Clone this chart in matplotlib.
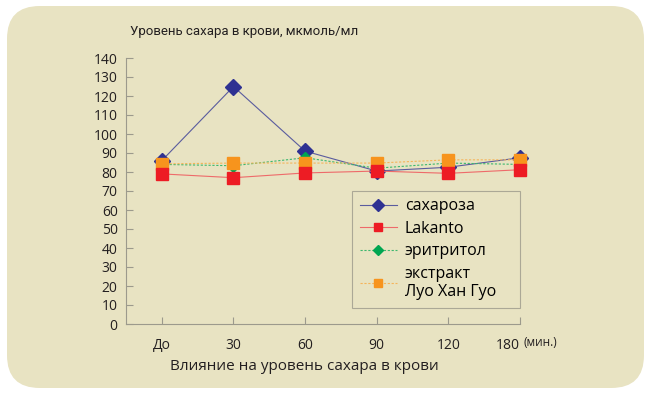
import matplotlib.pyplot as plt
from matplotlib.patches import FancyBboxPatch

plt.rcParams['font.family'] = ['Open Sans', 'DejaVu Sans']

# data
categories = ['До', '30', '60', '90', '120', '180']
sucrose = [86, 125, 91, 80.5, 82.5, 87.5]
lakanto = [79, 77, 79.5, 80.5, 79.3, 81.2]
erythritol = [84, 83.3, 87.5, 82, 84.7, 84]
luohanguo = [84.3, 84.7, 84.7, 84.7, 86.4, 86.4]

labels = ['сахароза', 'Lakanto', 'эритритол', 'экстракт\nЛуо Хан Гуо']

bg = '#E8E3C2'
axis_col = '#9C9A8C'

fig = plt.figure(figsize=(6.55, 3.96), dpi=100)
fig.patch.set_facecolor('white')

# rounded panel behind the chart
panel = FancyBboxPatch((7 / 655, 1 - 388 / 396), 637 / 655, 382 / 396,
                       boxstyle='round,pad=0,rounding_size=0.05',
                       transform=fig.transFigure, facecolor=bg,
                       edgecolor='none', mutation_aspect=655 / 396, zorder=-5)
fig.patches.append(panel)

ax = fig.add_axes([126 / 655, 1 - 324 / 396, 394 / 655, 266 / 396])
ax.set_facecolor('none')
ax.set_zorder(2)

x = list(range(len(categories)))
ax.plot(x, sucrose, color='#5A5C9E', lw=0.8, marker='D', ms=8,
        mfc='#2E3192', mec='#2E3192', label=labels[0], zorder=3, clip_on=False)
ax.plot(x, erythritol, color='#3DB86E', lw=0.8, ls=(0, (2, 1.5)), marker='D', ms=6.5,
        mfc='#00A651', mec='#00A651', label=labels[2], zorder=4, clip_on=False)
ax.plot(x, luohanguo, color='#F5B45A', lw=0.8, ls=(0, (2, 1.5)), marker='s', ms=8,
        mfc='#F7941D', mec='#F7941D', label=labels[3], zorder=5, clip_on=False)
ax.plot(x, lakanto, color='#EE6A6A', lw=0.8, marker='s', ms=8,
        mfc='#ED1C24', mec='#ED1C24', label=labels[1], zorder=6, clip_on=False)

ax.set_xlim(-0.5, 5)
ax.set_ylim(0, 140)
ax.set_yticks(range(0, 141, 10))
ax.set_xticks(x)
ax.set_xticklabels(categories)
ax.get_xticklabels()[-1].set_ha('right')

for s in ['top', 'right']:
    ax.spines[s].set_visible(False)
for s in ['left', 'bottom']:
    ax.spines[s].set_color(axis_col)
    ax.spines[s].set_linewidth(0.8)
ax.tick_params(direction='in', length=5, color=axis_col, labelsize=10,
               labelcolor='#231F20', pad=6)
ax.tick_params(axis='x', pad=10)

handles, lbls = ax.get_legend_handles_labels()
order = [lbls.index(l) for l in labels]
leg = ax.legend([handles[i] for i in order], [lbls[i] for i in order],
                loc='lower left', bbox_to_anchor=(0.5736, 0.06, 0.4264, 0.4),
                mode='expand', borderaxespad=0, frameon=True, fancybox=False,
                fontsize=11.5, handlelength=2.3, handletextpad=0.5,
                markerscale=0.8, labelspacing=0.4, borderpad=0.5)
leg.get_frame().set_edgecolor(axis_col)
leg.get_frame().set_facecolor(bg)
leg.get_frame().set_linewidth(0.8)
leg.set_zorder(10)

fig.text(523 / 655, 1 - 343 / 396, '(мин.)', fontsize=8.5, color='#231F20',
         va='center', ha='left')
fig.text(304 / 655, 1 - 366 / 396, 'Влияние на уровень сахара в крови',
         fontsize=11, color='#231F20', ha='center', va='center')
fig.text(244 / 655, 1 - 31 / 396, 'Уровень сахара в крови, мкмоль/мл',
         fontsize=9.5, color='#231F20', ha='center', va='center',
         family=['Roboto', 'DejaVu Sans'])

fig.savefig('out.png', dpi=100, facecolor=fig.get_facecolor())
